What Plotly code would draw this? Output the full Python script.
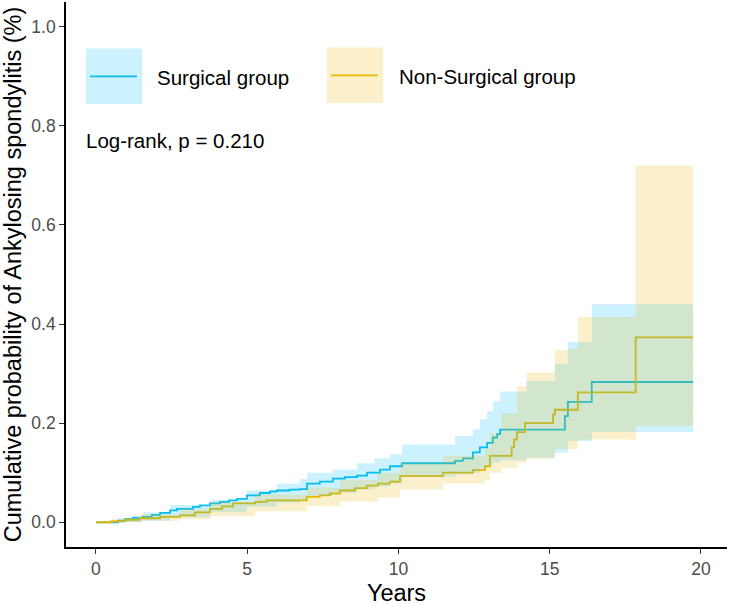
import plotly.graph_objects as go

# ---------------- data ----------------
surg_time = [0, 0.73, 0.96, 1.22, 1.55, 1.85, 2.12, 2.45, 2.68, 3.21,
             3.44, 3.77, 4.10, 4.40, 4.66, 4.99, 5.42, 5.75, 5.98, 6.41,
             6.74, 6.98, 7.40, 7.83, 8.23, 8.63, 8.96, 9.39, 9.72, 10.12,
             11.87, 12.13, 12.46, 12.69, 12.93, 13.12, 13.26, 13.36, 15.50, 15.60,
             16.39, 19.74]
surg_est = [0, 0.003, 0.006, 0.009, 0.011, 0.015, 0.019, 0.024, 0.027, 0.031,
            0.034, 0.038, 0.041, 0.044, 0.047, 0.054, 0.059, 0.062, 0.064, 0.066,
            0.067, 0.078, 0.082, 0.088, 0.091, 0.094, 0.100, 0.106, 0.113, 0.119,
            0.124, 0.129, 0.141, 0.151, 0.160, 0.171, 0.178, 0.187, 0.214, 0.243,
            0.283, 0.283]

surg_ci_time = [0, 0.73, 1.55, 2.45, 3.77, 4.99, 5.98, 6.74, 6.98, 7.83,
                8.63, 9.2, 9.72, 10.12, 11.87, 12.46, 12.69, 12.93, 13.12, 13.36,
                14.24, 15.17, 15.6, 16.39, 19.74]
surg_upper = [0, 0.008, 0.02, 0.035, 0.045, 0.064, 0.078, 0.088, 0.1, 0.106,
              0.119, 0.129, 0.137, 0.157, 0.174, 0.187, 0.208, 0.224, 0.244, 0.264,
              0.285, 0.32, 0.364, 0.44, 0.44]
surg_lower = [0, 0, 0.003, 0.01, 0.02, 0.031, 0.04, 0.045, 0.053, 0.06,
              0.066, 0.072, 0.078, 0.092, 0.097, 0.1, 0.108, 0.115, 0.12, 0.125,
              0.13, 0.14, 0.164, 0.182, 0.182]

non_time = [0, 0.52, 0.96, 1.45, 2.12, 2.78, 3.27, 3.77, 4.17, 4.53,
            5.26, 5.64, 6.97, 7.40, 7.73, 8.07, 8.56, 8.95, 9.32, 9.72,
            10.05, 11.47, 12.46, 12.86, 13.02, 13.74, 13.82, 13.92, 14.18, 15.11,
            15.17, 15.93, 17.84, 19.74]
non_est = [0, 0.002, 0.005, 0.008, 0.011, 0.014, 0.02, 0.027, 0.032, 0.038,
           0.041, 0.044, 0.051, 0.054, 0.058, 0.064, 0.069, 0.074, 0.078, 0.082,
           0.093, 0.1, 0.105, 0.113, 0.134, 0.151, 0.167, 0.182, 0.2, 0.217,
           0.227, 0.262, 0.373, 0.373]

non_ci_time = [0, 0.52, 1.45, 2.78, 3.77, 5.26, 6.97, 8.07, 9.32, 10.05,
               11.47, 12.86, 13.02, 13.4, 13.92, 14.24, 15.17, 15.6, 15.93, 16.39,
               17.84, 19.74]
non_upper = [0, 0.006, 0.016, 0.027, 0.04, 0.056, 0.07, 0.085, 0.1, 0.12,
             0.134, 0.15, 0.18, 0.22, 0.274, 0.302, 0.347, 0.35, 0.414, 0.414,
             0.72, 0.72]
non_lower = [0, 0, 0.003, 0.006, 0.012, 0.022, 0.032, 0.042, 0.05, 0.066,
             0.078, 0.085, 0.1, 0.11, 0.12, 0.128, 0.148, 0.148, 0.167, 0.167,
             0.194, 0.194]

group_names = ["Surgical group", "Non-Surgical group"]
x_ticks = [0, 5, 10, 15, 20]
y_ticks = [0.0, 0.2, 0.4, 0.6, 0.8, 1.0]
pvalue_text = "Log-rank, p = 0.210"

# ---------------- styles ----------------
BLUE = "#0ABDEE"
BLUE_FILL = "rgba(0,191,255,0.2)"
GOLD = "#E7B800"
GOLD_FILL = "rgba(231,184,0,0.2)"
FONT = "Liberation Sans, Arial, sans-serif"


def step_xy(t, v):
    xs, ys = [], []
    for i in range(len(t)):
        if i > 0:
            xs.append(t[i])
            ys.append(v[i - 1])
        xs.append(t[i])
        ys.append(v[i])
    return xs, ys


def band_xy(t, lo, hi):
    xu, yu = step_xy(t, hi)
    xl, yl = step_xy(t, lo)
    return xu + xl[::-1] + [xu[0]], yu + yl[::-1] + [yu[0]]


fig = go.Figure()

# lines first (ribbons are painted over them, as in the reference)
for t, v, col, name in [(surg_time, surg_est, BLUE, group_names[0]),
                        (non_time, non_est, GOLD, group_names[1])]:
    fig.add_trace(go.Scatter(x=t, y=v, mode="lines", line_shape="hv",
                             line=dict(color=col, width=1.8), name=name,
                             showlegend=False))

for t, lo, hi, fc in [(surg_ci_time, surg_lower, surg_upper, BLUE_FILL),
                      (non_ci_time, non_lower, non_upper, GOLD_FILL)]:
    bx, by = band_xy(t, lo, hi)
    fig.add_trace(go.Scatter(x=bx, y=by, mode="lines", fill="toself",
                             fillcolor=fc, line=dict(width=0, color=fc),
                             hoverinfo="skip", showlegend=False))

# ---------------- layout ----------------
L, R, T, B = 66, 3, 2, 54
W, H = 730, 606
pw, ph = W - L - R, H - T - B


def px(xp):
    return (xp - L) / pw


def py(yp):
    return (H - B - yp) / ph


shapes = []
annotations = []
legend_items = [
    (group_names[0], BLUE, BLUE_FILL, 86, 142, 49, 105, 155),
    (group_names[1], GOLD, GOLD_FILL, 327, 383, 48, 104, 397),
]
for name, lc, fc, x0, x1, y0, y1, xt in legend_items:
    shapes.append(dict(type="rect", xref="paper", yref="paper",
                       x0=px(x0), x1=px(x1), y0=py(y1), y1=py(y0),
                       fillcolor=fc, line=dict(width=0), layer="above"))
    ym = (y0 + y1) / 2
    shapes.append(dict(type="line", xref="paper", yref="paper",
                       x0=px(x0 + 4), x1=px(x1 - 5), y0=py(ym), y1=py(ym),
                       line=dict(color=lc, width=1.8), layer="above"))
    annotations.append(dict(xref="paper", yref="paper", x=px(xt), y=py(ym + 1),
                            text=name, showarrow=False, xanchor="left",
                            yanchor="middle", font=dict(size=20.5, color="black",
                                                        family=FONT)))

annotations.append(dict(xref="paper", yref="paper", x=px(84), y=py(142),
                        text=pvalue_text, showarrow=False, xanchor="left",
                        yanchor="middle",
                        font=dict(size=20.5, color="black", family=FONT)))

fig.update_layout(
    width=W, height=H,
    margin=dict(l=L, r=R, t=T, b=B, pad=0),
    paper_bgcolor="white", plot_bgcolor="white",
    font=dict(family=FONT),
    shapes=shapes, annotations=annotations,
    showlegend=False,
)
fig.update_xaxes(range=[-0.99, 20.86], tickvals=x_ticks,
                 ticktext=[str(v) for v in x_ticks],
                 showgrid=False, zeroline=False,
                 showline=True, linecolor="black", linewidth=1.6,
                 ticks="outside", ticklen=5, tickwidth=1.1, tickcolor="#333333",
                 tickfont=dict(size=17.5, color="#4D4D4D", family=FONT),
                 title=dict(text="Years", font=dict(size=23.5, color="black",
                                                     family=FONT), standoff=9))
fig.update_yaxes(range=[-0.05, 1.05], tickvals=y_ticks,
                 ticktext=[f"{v:.1f}" for v in y_ticks],
                 showgrid=False, zeroline=False,
                 showline=True, linecolor="black", linewidth=1.6,
                 ticks="outside", ticklen=5, tickwidth=1.1, tickcolor="#333333",
                 tickfont=dict(size=17.5, color="#4D4D4D", family=FONT),
                 title=dict(text="Cumulative probability of Ankylosing spondylitis (%)",
                            font=dict(size=23.5, color="black", family=FONT),
                            standoff=5))

fig.write_html("out.html")
